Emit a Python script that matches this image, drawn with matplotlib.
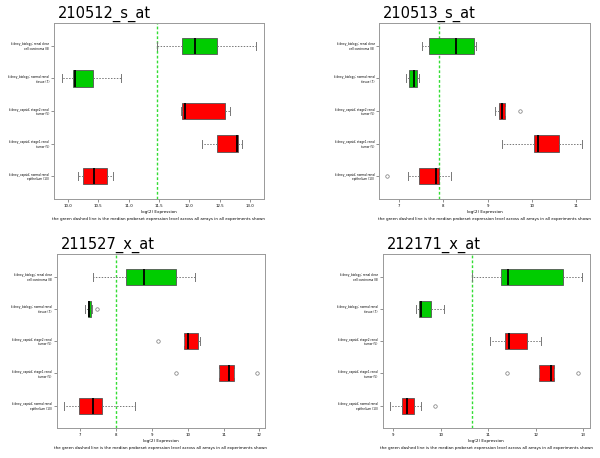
import matplotlib
matplotlib.use("Agg")
import matplotlib.pyplot as plt

# groups, bottom to top
groups = ["kidney_capsid; normal renal\nepithelium (10)",
          "kidney_capsid; stage1 renal\ntumor (5)",
          "kidney_capsid; stage2 renal\ntumor (5)",
          "kidney_biology; normal renal\ntissue (7)",
          "kidney_biology; renal clear\ncell carcinoma (8)"]
group_colors = ["#FF0000", "#FF0000", "#FF0000", "#00CC00", "#00CC00"]

titles = ["210512_s_at", "210513_s_at", "211527_x_at", "212171_x_at"]
median_all = [11.47, 7.895, 8.01, 10.65]

# per panel, per group (bottom to top): whisker low, q1, median, q3, whisker high
p1_whislo = [10.16, 12.21, 11.86, 9.90, 11.47]
p1_q1 = [10.25, 12.46, 11.885, 10.08, 11.885]
p1_med = [10.43, 12.79, 11.93, 10.11, 12.09]
p1_q3 = [10.64, 12.80, 12.59, 10.41, 12.46]
p1_whishi = [10.75, 12.87, 12.67, 10.88, 13.10]
p1_fliers = [[], [], [], [], []]

p2_whislo = [7.20, 9.32, 9.16, 7.15, 7.51]
p2_q1 = [7.44, 10.05, 9.26, 7.22, 7.67]
p2_med = [7.83, 10.14, 9.33, 7.34, 8.29]
p2_q3 = [7.89, 10.61, 9.38, 7.41, 8.68]
p2_whishi = [8.17, 11.13, 9.38, 7.46, 8.74]
p2_fliers = [[6.73], [], [9.72], [], []]

p3_whislo = [6.56, 10.88, 9.90, 7.14, 7.35]
p3_q1 = [6.96, 10.88, 9.90, 7.21, 8.27]
p3_med = [7.36, 11.14, 10.00, 7.25, 8.78]
p3_q3 = [7.61, 11.30, 10.28, 7.31, 9.67]
p3_whishi = [8.53, 11.30, 10.34, 7.34, 10.19]
p3_fliers = [[], [9.68, 11.94], [9.18], [7.48], []]

p4_whislo = [8.94, 12.06, 11.03, 9.48, 10.65]
p4_q1 = [9.19, 12.06, 11.35, 9.54, 11.26]
p4_med = [9.28, 12.32, 11.43, 9.58, 11.41]
p4_q3 = [9.43, 12.39, 11.81, 9.79, 12.57]
p4_whishi = [9.58, 12.39, 12.12, 10.07, 12.98]
p4_fliers = [[9.88], [11.40, 12.89], [], [], []]

panels = [
    (p1_whislo, p1_q1, p1_med, p1_q3, p1_whishi, p1_fliers),
    (p2_whislo, p2_q1, p2_med, p2_q3, p2_whishi, p2_fliers),
    (p3_whislo, p3_q1, p3_med, p3_q3, p3_whishi, p3_fliers),
    (p4_whislo, p4_q1, p4_med, p4_q3, p4_whishi, p4_fliers),
]

xticks = [[10.0, 10.5, 11.0, 11.5, 12.0, 12.5, 13.0],
          [7, 8, 9, 10, 11],
          [7, 8, 9, 10, 11, 12],
          [9, 10, 11, 12, 13]]
xticklabels = [["10.0", "10.5", "11.0", "11.5", "12.0", "12.5", "13.0"],
               ["7", "8", "9", "10", "11"],
               ["7", "8", "9", "10", "11", "12"],
               ["9", "10", "11", "12", "13"]]

W, H = 600, 458
rects = [(54, 23, 264, 199), (379.3, 23, 590, 199),
         (56.7, 254, 265, 428.3), (382.7, 254, 590, 428.3)]

fig = plt.figure(figsize=(6, 4.58), dpi=100)
fig.patch.set_facecolor("white")

caption = "the green dashed line is the median probeset expression level across all arrays in all experiments shown"

for i, (x0, y0, x1, y1) in enumerate(rects):
    ax = fig.add_axes([x0 / W, 1 - y1 / H, (x1 - x0) / W, (y1 - y0) / H])
    wl, q1, md, q3, wh, fl = panels[i]
    stats = []
    for k in range(len(groups)):
        stats.append(dict(whislo=wl[k], q1=q1[k], med=md[k], q3=q3[k],
                          whishi=wh[k], fliers=fl[k]))
    bp = ax.bxp(stats, positions=range(1, 6), vert=False, widths=0.5,
                patch_artist=True, showfliers=True,
                boxprops=dict(edgecolor="#555555", linewidth=0.6),
                medianprops=dict(color="black", linewidth=1.3),
                whiskerprops=dict(color="#777777", linestyle=(0, (1.5, 1.5)), linewidth=0.7),
                capprops=dict(color="#777777", linewidth=0.7),
                flierprops=dict(marker="o", markersize=2.5, markerfacecolor="none",
                                markeredgecolor="#777777", markeredgewidth=0.5))
    for patch, c in zip(bp["boxes"], group_colors):
        patch.set_facecolor(c)
    allv = wl + wh + [v for f in fl for v in f]
    lo, hi = min(allv), max(allv)
    pad = (hi - lo) * 0.04
    ax.set_xlim(lo - pad, hi + pad)
    ax.set_ylim(0.3, 5.7)
    ax.axvline(median_all[i], color="#33DD33", linestyle=(0, (2, 1.5)), linewidth=1.0, zorder=0)
    ax.set_yticks(range(1, 6))
    ax.set_yticklabels(groups, fontsize=2.05, ha="right", linespacing=1.2)
    ax.set_xticks(xticks[i])
    ax.set_xticklabels(xticklabels[i], fontsize=2.8)
    ax.tick_params(axis="both", length=2, width=0.5, color="#666666", pad=1.5)
    for s in ax.spines.values():
        s.set_color("#999999")
        s.set_linewidth(0.7)
    ax.set_xlabel("log(2) Expression", fontsize=3.0, labelpad=1.5)
    xc = (x0 + x1) / 2 / W
    fig.text(xc, 1 - (y1 + 20) / H, caption, fontsize=2.9, ha="center", va="center")
    fig.text((x0 + 4) / W, 1 - (y0 - 9) / H, titles[i], fontsize=10.5, ha="left", va="center")

fig.savefig("out.png", dpi=100)
